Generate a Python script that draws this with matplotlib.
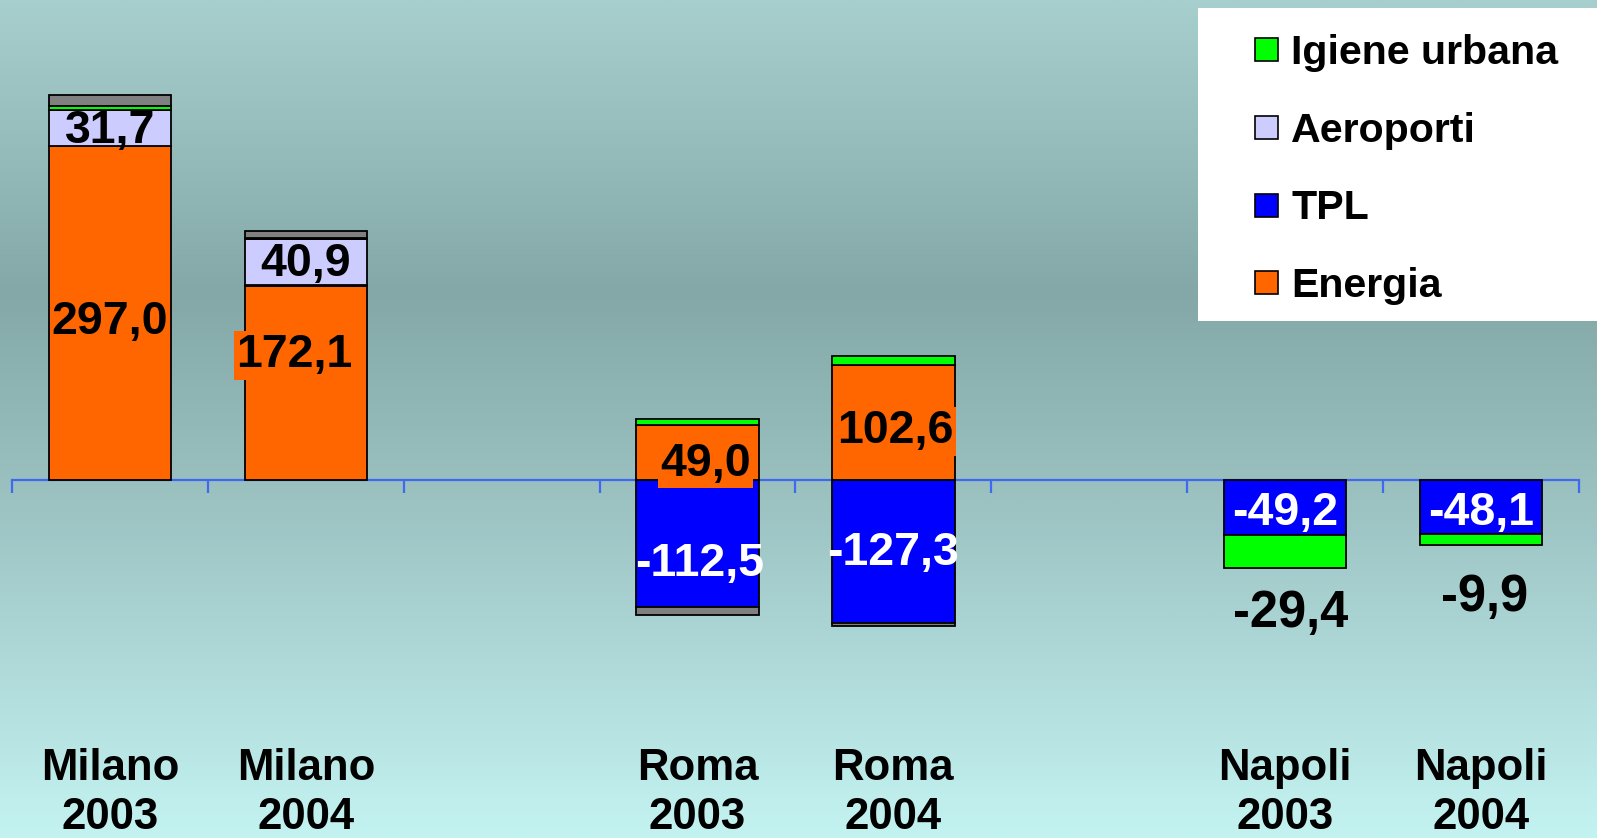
#!/usr/bin/env python3

import matplotlib

matplotlib.use("Agg")
import matplotlib.pyplot as plt
import numpy as np
from matplotlib.colors import LinearSegmentedColormap
from matplotlib.patches import Rectangle

# slots, with empty slots between the cities
CATEGORIES = ["Milano\n2003", "Milano\n2004", "", "Roma\n2003", "Roma\n2004", "", "Napoli\n2003", "Napoli\n2004"]

ENERGIA = [297.0, 172.1, 0.0, 49.0, 102.6, 0.0, 0.0, 0.0]
TPL = [0.0, 1.5, 0.0, -112.5, -127.3, 0.0, -49.2, -48.1]
AEROPORTI = [31.7, 40.9, 0.0, 0.0, 0.0, 0.0, 0.0, 0.0]
IGIENE = [3.3, 0.5, 0.0, 5.3, 8.0, 0.0, -29.4, -9.9]
ALTRO = [10.0, 6.5, 0.0, -7.0, -2.5, 0.0, 0.0, 0.0]

SERIES = ["Energia", "TPL", "Aeroporti", "Igiene urbana", "Altro"]
LEGEND_ORDER = ["Igiene urbana", "Aeroporti", "TPL", "Energia"]

COLORS = {
    "Energia": "#ff6600",
    "TPL": "#0000ff",
    "Aeroporti": "#ccccff",
    "Igiene urbana": "#00ff00",
    "Altro": "#808080",
}

FONT = "Liberation Sans"
AXIS_BLUE = "#3f6af0"


def fmt(v: float) -> str:
    return f"{v:.1f}".replace(".", ",")


def draw_background(fig) -> None:
    bg = fig.add_axes([0, 0, 1, 1], zorder=-10)
    cmap = LinearSegmentedColormap.from_list(
        "bg", [(0.0, "#a7cfcd"), (0.35, "#84a8a8"), (0.6, "#9cc2c2"), (1.0, "#c3f3f1")]
    )
    grad = np.linspace(0, 1, 400).reshape(-1, 1)
    bg.imshow(grad, aspect="auto", cmap=cmap, extent=[0, 1, 0, 1], origin="upper")
    bg.axis("off")


def draw_bars(ax, values: dict) -> None:
    width = 0.625
    for i in range(len(CATEGORIES)):
        pos_base = 0.0
        neg_base = 0.0
        for name in SERIES:
            v = values[name][i]
            if v == 0:
                continue
            if v > 0:
                bottom = pos_base
                pos_base += v
            else:
                bottom = neg_base
                neg_base += v
            ax.bar(i, v, bottom=bottom, width=width, color=COLORS[name],
                   edgecolor="black", linewidth=1.3, zorder=3)


def draw_labels(ax, values: dict) -> None:
    # (series, slot, x offset, label y, text colour, fontsize, boxed)
    specs = [
        ("Energia", 0, 0.0, 140.8, "black", 33.5, False),
        ("Aeroporti", 0, 0.0, 310.0, "black", 33.5, False),
        ("Energia", 1, -0.06, 110.8, "black", 33.5, True),
        ("Aeroporti", 1, 0.0, 191.8, "black", 33.5, False),
        ("Energia", 3, 0.04, 14.3, "black", 33.5, True),
        ("Energia", 4, 0.01, 43.3, "black", 33.5, True),
        ("TPL", 3, 0.01, -74.2, "white", 33.5, False),
        ("TPL", 4, 0.0, -65.2, "white", 33.5, False),
        ("TPL", 6, 0.0, -29.2, "white", 33.5, False),
        ("TPL", 7, 0.0, -29.2, "white", 33.5, False),
        ("Igiene urbana", 6, 0.03, -118.2, "black", 36.5, False),
        ("Igiene urbana", 7, 0.02, -104.2, "black", 36.5, False),
    ]
    for name, slot, dx, y, color, size, boxed in specs:
        bbox = None
        if boxed:
            bbox = dict(boxstyle="square,pad=0.05", fc=COLORS[name], ec="none")
        ax.text(slot + dx, y, fmt(values[name][slot]), ha="center", va="center",
                color=color, fontsize=size, fontweight="bold", family=FONT,
                bbox=bbox, zorder=5)


def style_axis(ax) -> None:
    ax.set_xlim(-0.5, len(CATEGORIES) - 0.5)
    ax.set_ylim(-318, 426.4)
    ax.set_facecolor("none")
    for side in ["top", "left", "right"]:
        ax.spines[side].set_visible(False)
    ax.spines["bottom"].set_position(("data", 0))
    ax.spines["bottom"].set_color(AXIS_BLUE)
    ax.spines["bottom"].set_linewidth(1.6)
    ax.spines["bottom"].set_zorder(2)
    ax.set_yticks([])
    ax.set_xticks(np.arange(-0.5, len(CATEGORIES)))
    ax.tick_params(axis="x", direction="out", length=9.5, width=1.6,
                   color=AXIS_BLUE, labelbottom=False)

    for i, cat in enumerate(CATEGORIES):
        if cat:
            ax.text(i, 1 - 793 / 838, cat, transform=ax.get_xaxis_transform(),
                    ha="center", va="center", fontsize=31.5, fontweight="bold",
                    family=FONT, linespacing=1.22)


def draw_legend(fig) -> None:
    W, H = 1597.0, 838.0
    fig.patches.append(Rectangle((1198 / W, 1 - 321 / H), 1 - 1198 / W, 313 / H,
                                 transform=fig.transFigure, fc="white", ec="none", zorder=20))
    rows = [49.5, 127.8, 205.2, 282.6]
    for name, yc in zip(LEGEND_ORDER, rows):
        s = 23.0
        fig.patches.append(Rectangle((1255 / W, 1 - (yc + s / 2) / H), s / W, s / H,
                                     transform=fig.transFigure, fc=COLORS[name],
                                     ec="black", lw=1.2, zorder=21))
        fig.text(1291 / W, 1 - (yc + 3) / H, name, ha="left", va="center", fontsize=29.6,
                 fontweight="bold", family=FONT, zorder=22)


def main() -> None:
    values = {
        "Energia": ENERGIA,
        "TPL": TPL,
        "Aeroporti": AEROPORTI,
        "Igiene urbana": IGIENE,
        "Altro": ALTRO,
    }

    fig = plt.figure(figsize=(15.97, 8.38), dpi=100)
    draw_background(fig)

    ax = fig.add_axes([12.2 / 1597, 0, 1566.5 / 1597, 1])
    draw_bars(ax, values)
    draw_labels(ax, values)
    style_axis(ax)
    draw_legend(fig)

    fig.savefig("out.png", dpi=100)
    plt.close(fig)


if __name__ == "__main__":
    main()
